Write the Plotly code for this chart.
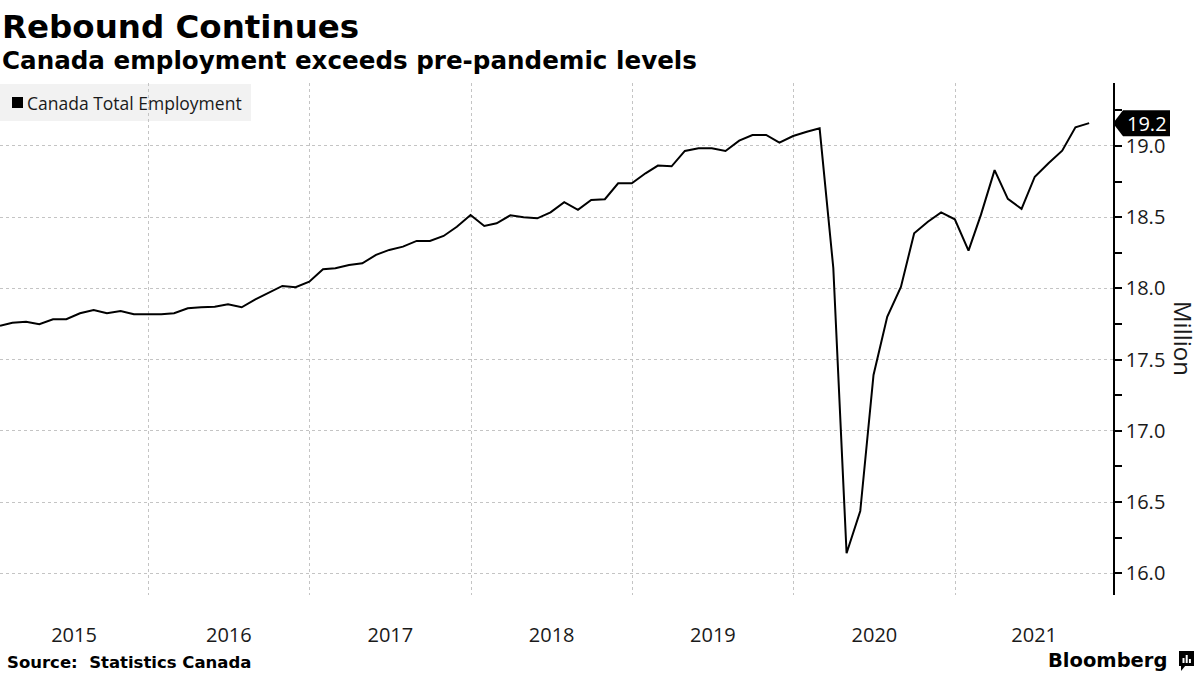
import pandas as pd
import plotly.graph_objects as go

# ---------------- data ----------------
series_name = "Canada Total Employment"
start_month = "2015-01-31"
employment = [
    # 2015
    17.738, 17.759, 17.766, 17.748, 17.783, 17.783, 17.825, 17.848, 17.825, 17.841, 17.818, 17.818,
    # 2016
    17.818, 17.825, 17.860, 17.867, 17.871, 17.888, 17.867, 17.923, 17.970, 18.017, 18.008, 18.047,
    # 2017
    18.134, 18.141, 18.164, 18.176, 18.235, 18.270, 18.293, 18.333, 18.333, 18.368, 18.433, 18.515,
    # 2018
    18.438, 18.457, 18.513, 18.499, 18.492, 18.534, 18.605, 18.551, 18.621, 18.626, 18.738, 18.738,
    # 2019
    18.808, 18.862, 18.857, 18.965, 18.984, 18.984, 18.965, 19.037, 19.077, 19.077, 19.023, 19.070,
    # 2020
    19.100, 19.124, 18.143, 16.140, 16.437, 17.392, 17.800, 18.010, 18.387, 18.468, 18.534, 18.485,
    # 2021
    18.265, 18.516, 18.830, 18.628, 18.558, 18.784, 18.879, 18.967, 19.131, 19.160,
]
year_labels = ["2015", "2016", "2017", "2018", "2019", "2020", "2021"]
y_ticks = [16.0, 16.5, 17.0, 17.5, 18.0, 18.5, 19.0]

title = "Rebound Continues"
subtitle = "Canada employment exceeds pre-pandemic levels"
source = "Source:\u00a0 Statistics Canada"
y_unit = "Million"

# ---------------- layout geometry ----------------
W, H = 1200, 675
ML, MR, MT, MB = 0, 87, 83, 80
PW, PH = W - ML - MR, H - MT - MB

def px(x):
    return (x - ML) / PW

def py(y):
    return (H - MB - y) / PH

dates = pd.date_range(start_month, periods=len(employment), freq=pd.offsets.MonthEnd())
x_start = dates[0]
x_end = pd.Timestamp("2021-12-24")
y_min, y_max = 15.847, 19.442

# year label centred on visible part of each year; gridlines at year boundaries
tick_pos = []
for lab in year_labels:
    y0 = pd.Timestamp(f"{lab}-01-01")
    y1 = pd.Timestamp(f"{int(lab) + 1}-01-01")
    lo, hi = max(y0, x_start), min(y1, x_end)
    tick_pos.append(lo + (hi - lo) / 2)
year_bounds = [pd.Timestamp(f"{lab}-01-01") for lab in year_labels if pd.Timestamp(f"{lab}-01-01") > x_start]

REG = "Open Sans, Liberation Sans, Arial, sans-serif"
BOLD = "DejaVu Sans, Verdana, sans-serif"
GRID = "#c4c4c4"

fig = go.Figure()
fig.add_trace(go.Scatter(
    x=dates, y=employment, mode="lines", name=series_name,
    line=dict(color="black", width=2), showlegend=False,
    hovertemplate="%{x|%b %Y}: %{y:.2f}M<extra></extra>",
))

shapes = []
annotations = []

# title / subtitle
annotations.append(dict(text=f"<b>{title}</b>", x=px(0), y=py(27), xref="paper", yref="paper",
                        xanchor="left", yanchor="middle", showarrow=False,
                        font=dict(family=BOLD, size=32.5, color="black")))
annotations.append(dict(text=f"<b>{subtitle}</b>", x=px(0), y=py(60), xref="paper", yref="paper",
                        xanchor="left", yanchor="middle", showarrow=False,
                        font=dict(family=BOLD, size=24.6, color="black")))

# legend (manual, Bloomberg style)
shapes.append(dict(type="rect", xref="paper", yref="paper", x0=px(0), x1=px(251), y0=py(121), y1=py(84),
                   fillcolor="#f2f2f2", line=dict(width=0), layer="below"))
shapes.append(dict(type="rect", xref="paper", yref="paper", x0=px(12), x1=px(23), y0=py(108), y1=py(97),
                   fillcolor="black", line=dict(width=0), layer="above"))
annotations.append(dict(text=series_name, x=px(25), y=py(102.5), xref="paper", yref="paper",
                        xanchor="left", yanchor="middle", showarrow=False,
                        font=dict(family=REG, size=17.5, color="#1a1a1a")))

# last value tag
last = employment[-1]
yc = (last - y_min) / (y_max - y_min)
dy = 13 / PH
x0, x1, x2 = px(1113), px(1123), px(1170)
shapes.append(dict(type="path", xref="paper", yref="paper",
                   path=f"M {x0},{yc} L {x1},{yc + dy} L {x2},{yc + dy} L {x2},{yc - dy} L {x1},{yc - dy} Z",
                   fillcolor="black", line=dict(width=0), layer="above"))
annotations.append(dict(text=f"{last:.1f}", x=px(1147), y=yc, xref="paper", yref="paper",
                        xanchor="center", yanchor="middle", showarrow=False,
                        font=dict(family=REG, size=20, color="white")))

# y unit
annotations.append(dict(text=y_unit, x=px(1184), y=py(339), xref="paper", yref="paper",
                        xanchor="center", yanchor="middle", showarrow=False, textangle=90,
                        font=dict(family=REG, size=24, color="#1a1a1a")))

# source
annotations.append(dict(text=f"<b>{source}</b>", x=px(5), y=py(662), xref="paper", yref="paper",
                        xanchor="left", yanchor="middle", showarrow=False,
                        font=dict(family=BOLD, size=16.5, color="black")))

# Bloomberg logo text + icon
annotations.append(dict(text="<b>Bloomberg</b>", x=px(1169), y=py(660), xref="paper", yref="paper",
                        xanchor="right", yanchor="middle", showarrow=False,
                        font=dict(family=BOLD, size=19.5, color="black")))
shapes.append(dict(type="rect", xref="paper", yref="paper", x0=px(1179), x1=px(1194), y0=py(666), y1=py(651),
                   fillcolor="black", line=dict(width=0)))
shapes.append(dict(type="path", xref="paper", yref="paper",
                   path=f"M {px(1181)},{py(665)} L {px(1186)},{py(665)} L {px(1181)},{py(671)} Z",
                   fillcolor="black", line=dict(width=0)))
for bx, btop in [(1182.5, 658), (1185.7, 655), (1188.9, 659)]:
    shapes.append(dict(type="rect", xref="paper", yref="paper", x0=px(bx), x1=px(bx + 2),
                       y0=py(663), y1=py(btop), fillcolor="white", line=dict(width=0)))

fig.update_layout(
    width=W, height=H,
    margin=dict(l=ML, r=MR, t=MT, b=MB, pad=0),
    paper_bgcolor="white", plot_bgcolor="white",
    showlegend=False,
    shapes=shapes, annotations=annotations,
    font=dict(family=REG, color="#1a1a1a"),
    xaxis=dict(
        type="date", range=[x_start, x_end],
        tickmode="array", tickvals=tick_pos, ticktext=year_labels,
        ticks="outside", ticklen=22, tickcolor="rgba(0,0,0,0)",
        showgrid=False, showline=False, zeroline=False,
        tickfont=dict(family=REG, size=20, color="#1a1a1a"),
        minor=dict(tickmode="array", tickvals=year_bounds, showgrid=True,
                   gridcolor=GRID, griddash="dot", gridwidth=1, ticks=""),
    ),
    yaxis=dict(
        side="right", range=[y_min, y_max],
        tickmode="array", tickvals=y_ticks, tickformat=".1f",
        showgrid=True, gridcolor=GRID, griddash="dot", gridwidth=1,
        ticks="outside", ticklen=7, tickwidth=1.5, tickcolor="black",
        showline=True, linecolor="black", linewidth=1.5, zeroline=False,
        tickfont=dict(family=REG, size=20, color="#1a1a1a"),
        minor=dict(dtick=0.25, tick0=16, ticks="outside", ticklen=7, tickwidth=1.5,
                   tickcolor="black", showgrid=False),
    ),
)

# remove the browser's default 8px page margin so the figure fills the window exactly
fig.write_html("out.html",
               config={"displayModeBar": False},
               post_script="document.body.style.margin='0';document.body.style.overflow='hidden';")
